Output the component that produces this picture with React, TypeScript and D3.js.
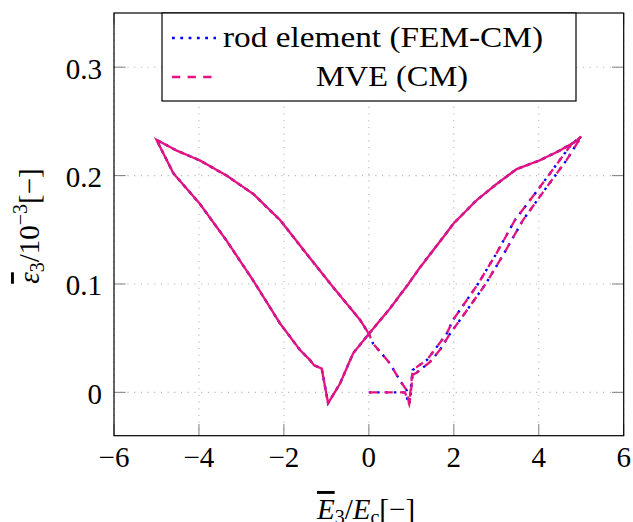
import React from "react";
import * as d3 from "d3";

// ---- data ----
const xTicks = [-6, -4, -2, 0, 2, 4, 6];
const yTicks = [0, 0.1, 0.2, 0.3];
const xTickLabels = ["\u22126", "\u22124", "\u22122", "0", "2", "4", "6"];
const yTickLabels = ["0", "0.1", "0.2", "0.3"];

// virgin loading 0 -> 5
const virginE = [0, 0.85, 0.95, 0.98, 1.03, 1.12, 1.44, 1.67, 1.91, 2.15, 2.75, 3.18, 3.63, 4.18, 4.65, 4.89, 5.0];
const virginS = [0, 0, -0.011, -0.004, 0.016, 0.018, 0.028, 0.039, 0.054, 0.067, 0.1, 0.128, 0.159, 0.189, 0.214, 0.229, 0.236];

// unloading 5 -> -1 (upper right branch)
const upperRightE = [5.0, 4.89, 4.49, 4.02, 3.48, 3.0, 2.53, 2.0, 1.67, 1.2, 0.93, 0.49, 0, -0.37, -0.68, -0.96];
const upperRightS = [0.236, 0.232, 0.223, 0.214, 0.206, 0.192, 0.177, 0.156, 0.139, 0.115, 0.1, 0.077, 0.054, 0.036, 0.008, -0.01];

// loading -1 -> -5 (lower left branch)
const lowerLeftE = [-1.11, -1.29, -1.39, -1.62, -2.09, -2.72, -3.35, -3.98, -4.6, -5.0];
const lowerLeftS = [0.022, 0.025, 0.03, 0.039, 0.0635, 0.103, 0.14, 0.174, 0.202, 0.233];

// unloading -5 -> 1 (upper left branch)
const upperLeftE = [-4.52, -3.98, -3.35, -2.72, -2.09, -1.47, -0.84, -0.21, 0, 0.1, 0.49, 0.73, 0.89, 0.95];
const upperLeftS = [0.223, 0.214, 0.2, 0.183, 0.159, 0.128, 0.097, 0.067, 0.054, 0.045, 0.027, 0.011, 0.002, -0.011];

// reloading 1 -> 5 (lower right branch, second pass)
const reloadE = [1.03, 1.15, 1.37, 1.63, 1.83, 1.98, 2.57, 3.0, 3.44, 4.02, 4.49, 4.77, 5.0];
const reloadS = [0.0205, 0.024, 0.03, 0.0435, 0.054, 0.0667, 0.1, 0.128, 0.159, 0.189, 0.214, 0.229, 0.236];

const seriesNames = ["rod element (FEM-CM)", "MVE (CM)"];
const seriesColors = ["#0000ff", "#e6127f"];

type Pt = [number, number];
const zipPts = (e: number[], s: number[]): Pt[] => e.map((v, i) => [v, s[i]] as Pt);

function buildPath(): Pt[] {
  const v = zipPts(virginE, virginS);
  const ur = zipPts(upperRightE, upperRightS);
  const ll = zipPts(lowerLeftE, lowerLeftS);
  const ul = zipPts(upperLeftE, upperLeftS);
  const rl = zipPts(reloadE, reloadS);
  const ulHalf = ul.filter((p) => p[0] <= 0);
  return [...v, ...ur.slice(1), ...ll, ...ul, ...rl, ...ur.slice(1), ...ll, ...ulHalf];
}

const W = 633;
const H = 522;
const L = 114, R = 623.7, T = 13, B = 435.7;

export default function App() {
  const x = d3.scaleLinear().domain([-6, 6]).range([L, R]);
  const y = d3.scaleLinear().domain([-0.04, 0.35]).range([B, T]);
  const pts = buildPath();
  const line = d3.line<Pt>().x((d) => x(d[0])).y((d) => y(d[1]));
  const dPath = line(pts) || "";
  const tf = { fontFamily: "Liberation Serif" };
  const fs = 29;
  const gridStyle = { stroke: "#b4b4b4", strokeWidth: 1.1, strokeDasharray: "1.1 5.6" };
  const tickStroke = "#8a8a8a";

  return (
    <svg width={W} height={H} style={{ position: "absolute", left: 0, top: 0 }}>
      <rect x={0} y={0} width={W} height={H} fill="#fff" />
      {/* grid */}
      {xTicks.map((t) => (
        <line key={"gx" + t} x1={x(t)} x2={x(t)} y1={T} y2={B} {...gridStyle} />
      ))}
      {yTicks.map((t) => (
        <line key={"gy" + t} x1={L} x2={R} y1={y(t)} y2={y(t)} {...gridStyle} />
      ))}
      {/* ticks */}
      {xTicks.map((t) => (
        <g key={"tx" + t} stroke={tickStroke} strokeWidth={1.1}>
          <line x1={x(t)} x2={x(t)} y1={B} y2={B - 11.7} />
          <line x1={x(t)} x2={x(t)} y1={T} y2={T + 11.7} />
        </g>
      ))}
      {yTicks.map((t) => (
        <g key={"ty" + t} stroke={tickStroke} strokeWidth={1.1}>
          <line x1={L} x2={L + 11.7} y1={y(t)} y2={y(t)} />
          <line x1={R} x2={R - 11.7} y1={y(t)} y2={y(t)} />
        </g>
      ))}
      {/* series */}
      <path d={dPath} fill="none" stroke={seriesColors[0]} strokeWidth={2.4} strokeDasharray="2.5 5.8" />
      <path d={dPath} fill="none" stroke={seriesColors[1]} strokeWidth={2.3} strokeDasharray="8.3 7.3" />
      {/* frame */}
      <rect x={L} y={T} width={R - L} height={B - T} fill="none" stroke="#000" strokeWidth={1.2} />
      {/* tick labels */}
      {xTicks.map((t, i) => (
        <text key={"lx" + t} x={x(t)} y={467} textAnchor="middle" fontSize={fs} fill="#000" style={tf}>
          {xTickLabels[i]}
        </text>
      ))}
      {yTicks.map((t, i) => (
        <text key={"ly" + t} x={102} y={y(t) + 11.5} textAnchor="end" fontSize={fs} fill="#000" style={tf}>
          {yTickLabels[i]}
        </text>
      ))}
      {/* x label */}
      <text x={366} y={519} textAnchor="middle" fontSize={fs} fill="#000" style={tf}>
        <tspan fontStyle="italic" style={{ textDecoration: "overline" }}>E</tspan>
        <tspan fontSize={20} dy={5}>3</tspan>
        <tspan dy={-5}>/</tspan>
        <tspan fontStyle="italic">E</tspan>
        <tspan fontSize={20} dy={5}>c</tspan>
        <tspan dy={-5}>[{"\u2212"}]</tspan>
      </text>
      {/* y label */}
      <text transform="translate(39,226) rotate(-90)" textAnchor="middle" fontSize={fs} fill="#000" style={tf}>
        <tspan fontStyle="italic" style={{ textDecoration: "overline" }}>{"\u03b5"}</tspan>
        <tspan fontSize={20} dy={5}>3</tspan>
        <tspan dy={-5}>/10</tspan>
        <tspan fontSize={20} dy={-12}>{"\u22123"}</tspan>
        <tspan dy={12}>[{"\u2212"}]</tspan>
      </text>
      {/* legend */}
      <rect x={162} y={13} width={414} height={88} fill="#fff" stroke="#000" strokeWidth={1.2} />
      <line x1={172} x2={216} y1={38} y2={38} stroke={seriesColors[0]} strokeWidth={2.6} strokeDasharray="2.8 5.5" />
      <line x1={172} x2={216} y1={77} y2={77} stroke={seriesColors[1]} strokeWidth={2.3} strokeDasharray="8.3 7.3" />
      <text x={223} y={47} fontSize={fs} textLength={320} lengthAdjust="spacingAndGlyphs" fill="#000" style={tf}>
        {seriesNames[0]}
      </text>
      <text x={316} y={86} fontSize={fs} textLength={152} lengthAdjust="spacingAndGlyphs" fill="#000" style={tf}>
        {seriesNames[1]}
      </text>
    </svg>
  );
}
